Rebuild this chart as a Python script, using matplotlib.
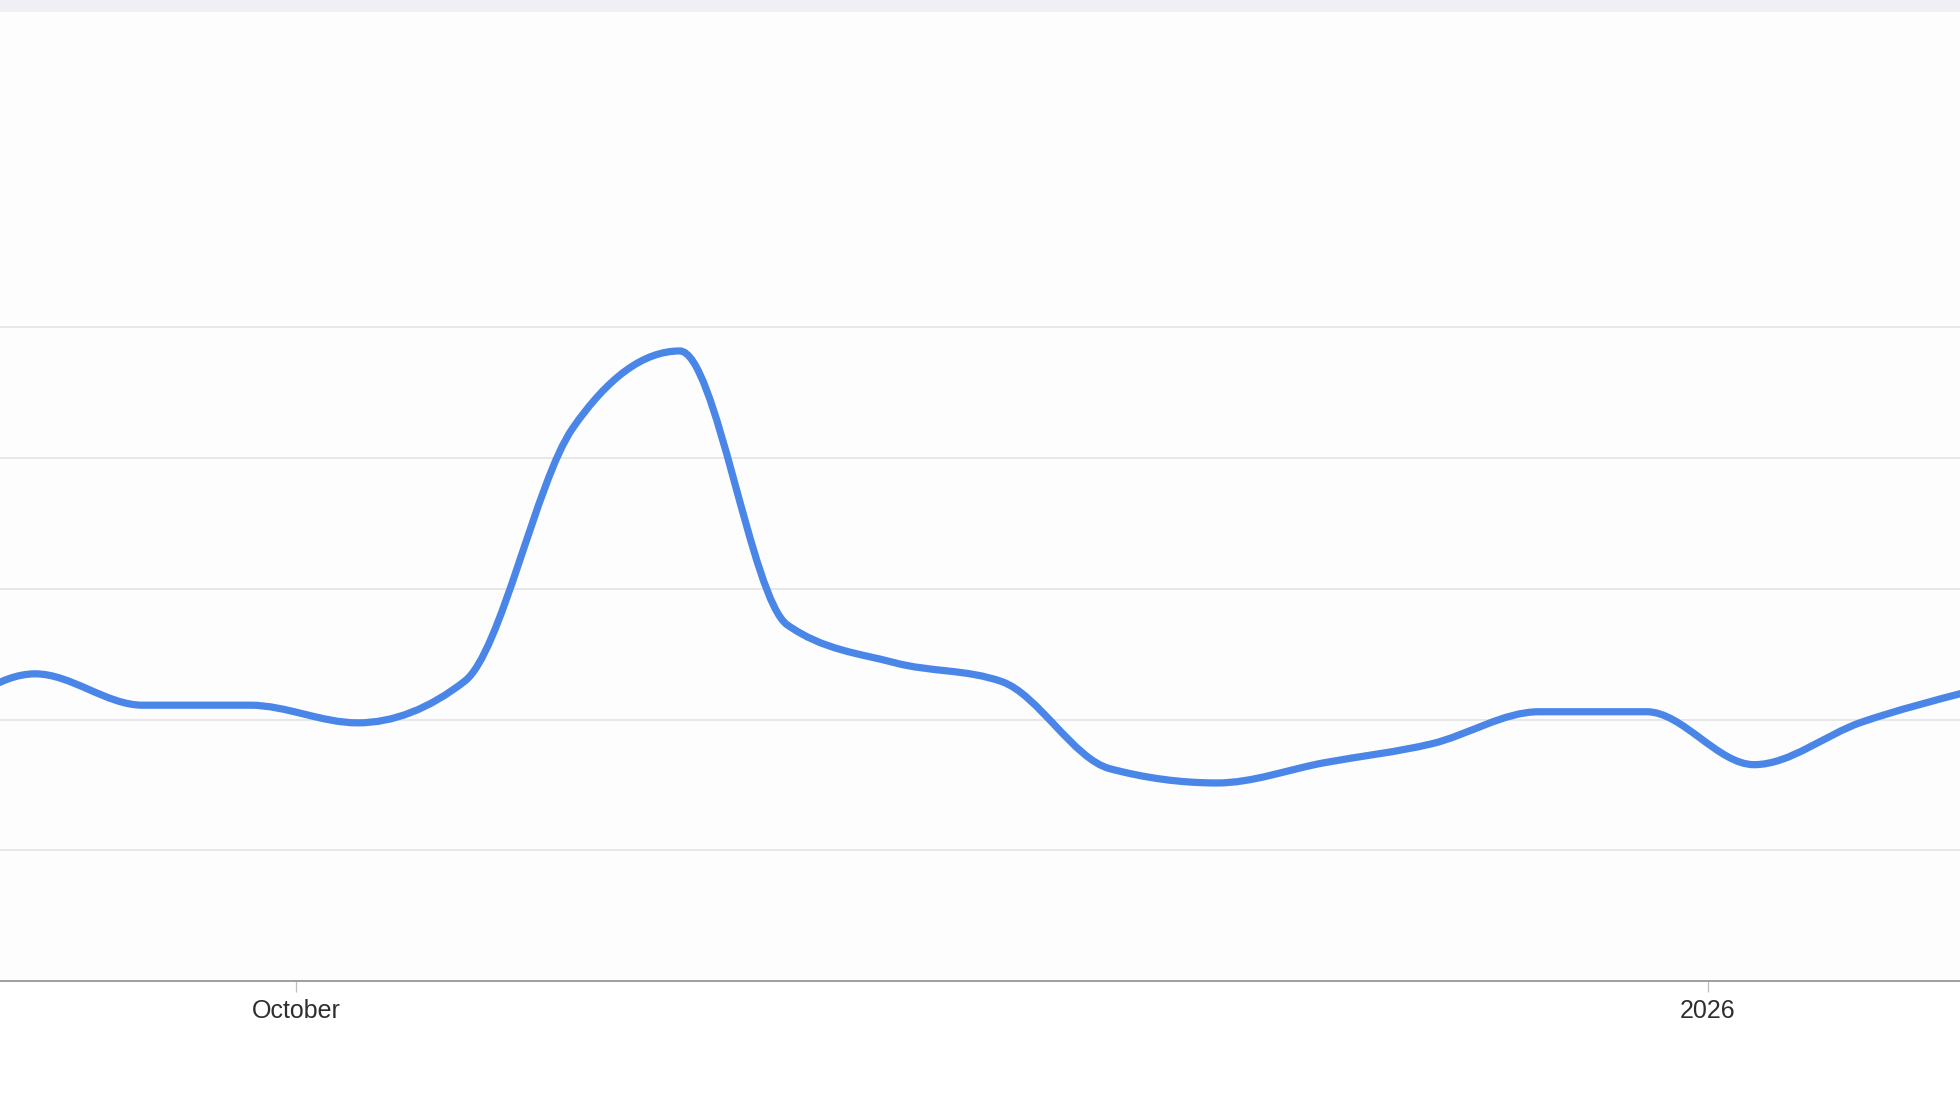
import numpy as np
import matplotlib
matplotlib.use("Agg")
import matplotlib.pyplot as plt
import matplotlib.dates as mdates
from matplotlib.path import Path
from matplotlib.patches import PathPatch, Rectangle
from datetime import datetime

plt.rcParams['font.family'] = ['Liberation Sans', 'DejaVu Sans']

# ---- data (weekly; unlabeled relative scale 0-100) ----
week_starts = ["2025-09-07", "2025-09-14", "2025-09-21", "2025-09-28", "2025-10-05",
               "2025-10-12", "2025-10-19", "2025-10-26", "2025-11-02", "2025-11-09",
               "2025-11-16", "2025-11-23", "2025-11-30", "2025-12-07", "2025-12-14",
               "2025-12-21", "2025-12-28", "2026-01-04", "2026-01-11", "2026-01-18"]
interest = [38, 47, 42.2, 42.2, 39.5, 45.9, 84.5, 96.4, 54.5, 48.7,
            45.8, 32.5, 30.3, 33.4, 36.3, 41.2, 41.2, 33.1, 39.6, 44.3]
tick_dates = ["2025-10-01", "2026-01-01"]
tick_labels = ["October", "2026"]
grid_values = [20, 40, 60, 80, 100]

x = mdates.date2num([datetime.fromisoformat(d) for d in week_starts])
y = np.array(interest, dtype=float)


def monotone_tangents(x, y):
    n = len(x)
    h = np.diff(x)
    s = np.diff(y) / h
    t = np.zeros(n)
    for i in range(1, n - 1):
        h0, h1 = h[i - 1], h[i]
        s0, s1 = s[i - 1], s[i]
        p = (s0 * h1 + s1 * h0) / (h0 + h1)
        sg0 = -1 if s0 < 0 else 1
        sg1 = -1 if s1 < 0 else 1
        t[i] = (sg0 + sg1) * min(abs(s0), abs(s1), 0.5 * abs(p))
    t[0] = (3 * s[0] - t[1]) / 2
    t[-1] = (3 * s[-1] - t[-2]) / 2
    return t


t = monotone_tangents(x, y)
verts = [(x[0], y[0])]
codes = [Path.MOVETO]
for i in range(len(x) - 1):
    dx = (x[i + 1] - x[i]) / 3.0
    verts += [(x[i] + dx, y[i] + dx * t[i]),
              (x[i + 1] - dx, y[i + 1] - dx * t[i + 1]),
              (x[i + 1], y[i + 1])]
    codes += [Path.CURVE4] * 3

fig = plt.figure(figsize=(19.6, 11.18), dpi=100, facecolor='white')
ax = fig.add_axes([0.0, 0.12254, 1.0, 0.87746])
ax.set_facecolor('#fdfdfd')

ax.add_patch(PathPatch(Path(verts, codes), fill=False, edgecolor='#4a86e8',
                       linewidth=5.2, capstyle='round', joinstyle='round', zorder=3))

for g in grid_values:
    ax.axhline(g, color='#e3e3e3', linewidth=1.2, zorder=1)

ax.set_ylim(0, 150.1)
ax.set_xlim(datetime(2025, 9, 11, 17), datetime(2026, 1, 17, 10))

for side in ['top', 'left', 'right']:
    ax.spines[side].set_visible(False)
ax.spines['bottom'].set_color('#9e9e9e')
ax.spines['bottom'].set_linewidth(1.4)

ax.set_yticks([])
ax.set_xticks(mdates.date2num([datetime.fromisoformat(d) for d in tick_dates]))
ax.set_xticklabels(tick_labels)
ax.tick_params(axis='x', direction='out', length=8, width=0.9, color='#bdbdbd',
               labelsize=18, labelcolor='#2e2e2e', pad=5)

# top light band
fig.patches.append(Rectangle((0, 1 - 12 / 1118), 1, 12 / 1118, transform=fig.transFigure,
                             facecolor='#efeff4', edgecolor='none', zorder=10))

fig.savefig('out.png', dpi=100, facecolor='white')
